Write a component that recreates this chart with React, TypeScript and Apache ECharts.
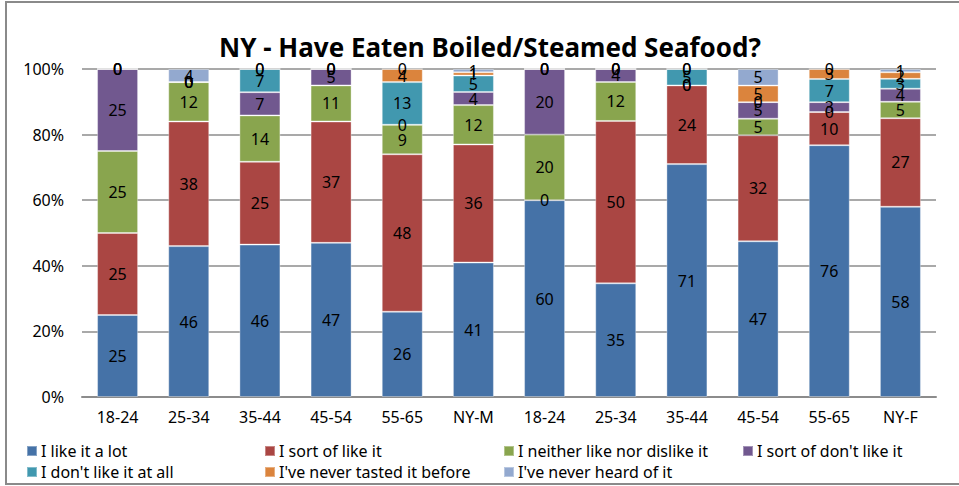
import React, { useEffect, useRef } from "react";
import * as echarts from "echarts";

const categories = ["18-24", "25-34", "35-44", "45-54", "55-65", "NY-M", "18-24", "25-34", "35-44", "45-54", "55-65", "NY-F"];
const seriesNames = [
  "I like it a lot",
  "I sort of like it",
  "I neither like nor dislike it",
  "I sort of don't like it",
  "I don't like it at all",
  "I've never tasted it before",
  "I've never heard of it",
];
const likeLot = [25, 46, 46, 47, 26, 41, 60, 35, 71, 47, 76, 58];
const sortLike = [25, 38, 25, 37, 48, 36, 0, 50, 24, 32, 10, 27];
const neither = [25, 12, 14, 11, 9, 12, 20, 12, 0, 5, 0, 5];
const sortDont = [25, 0, 7, 5, 0, 4, 20, 4, 0, 5, 3, 4];
const dontLike = [0, 0, 7, 0, 13, 5, 0, 0, 5, 0, 7, 3];
const neverTasted = [0, 0, 0, 0, 4, 1, 0, 0, 0, 5, 3, 2];
const neverHeard = [0, 4, 0, 0, 0, 1, 0, 0, 0, 5, 0, 1];
const yTicks = [0, 20, 40, 60, 80, 100];
const colors = ["#4572A7", "#AA4643", "#89A54E", "#71588F", "#4198AF", "#DB843D", "#93A9CF"];

const FONT = "'Noto Sans', 'Open Sans', sans-serif";

export default function App() {
  const ref = useRef<HTMLDivElement>(null);
  useEffect(() => {
    if (!ref.current) return;
    const chart = echarts.init(ref.current, null, { renderer: "svg" });
    const raw = [likeLot, sortLike, neither, sortDont, dontLike, neverTasted, neverHeard];
    const totals = categories.map((_, i) => raw.reduce((s, arr) => s + arr[i], 0));

    const legendPos = [
      [26, 443], [264, 443], [503, 443], [742, 443],
      [26, 464], [264, 464], [503, 464],
    ];

    chart.setOption({
      animation: false,
      textStyle: { fontFamily: FONT },
      title: {
        text: "NY - Have Eaten Boiled/Steamed Seafood?",
        left: 485,
        top: 29,
        textAlign: "center",
        textStyle: { fontFamily: FONT, fontSize: 26, fontWeight: "bold", color: "#000" },
      },
      graphic: [
        {
          type: "rect",
          shape: { x: 6, y: 2, width: 1000, height: 482 },
          style: { fill: "none", stroke: "#8a8a8a", lineWidth: 2 },
          silent: true,
        },
      ],
      legend: seriesNames.map((name, i) => ({
        data: [name],
        left: legendPos[i][0],
        top: legendPos[i][1],
        padding: 0,
        itemWidth: 10,
        itemHeight: 10,
        itemGap: 4,
        icon: "rect",
        textStyle: { fontFamily: FONT, fontSize: 16, color: "#000", padding: [0, 0, 0, -1] },
      })),
      grid: { left: 82, right: 23, top: 69, bottom: 89, containLabel: false },
      xAxis: {
        type: "category",
        data: categories,
        axisLine: { lineStyle: { color: "#8c8c8c", width: 2 } },
        axisTick: { show: false },
        axisLabel: { color: "#000", fontSize: 16, fontFamily: FONT, margin: 12, interval: 0 },
      },
      yAxis: {
        type: "value",
        min: yTicks[0],
        max: yTicks[yTicks.length - 1],
        interval: yTicks[1] - yTicks[0],
        axisLine: { show: false },
        axisTick: { show: false },
        axisLabel: { color: "#000", fontSize: 16, fontFamily: FONT, margin: 18, formatter: "{value}%" },
        splitLine: { lineStyle: { color: "#8c8c8c", width: 1.5 } },
      },
      series: seriesNames.map((name, si) => ({
        name,
        type: "bar",
        stack: "total",
        barWidth: 41,
        itemStyle: { color: colors[si], borderColor: "rgba(255,255,255,0.35)", borderWidth: 1 },
        label: {
          show: true,
          position: "inside",
          color: "#000",
          fontSize: 16,
          fontFamily: FONT,
          formatter: (p: any) => String(raw[si][p.dataIndex]),
        },
        data: raw[si].map((v, i) => (v / totals[i]) * 100),
      })),
    });
    return () => chart.dispose();
  }, []);
  return (
    <div style={{ position: "absolute", left: 0, top: 0, width: 959, height: 486, background: "#fff" }}>
      <div ref={ref} style={{ width: 959, height: 486 }} />
    </div>
  );
}
